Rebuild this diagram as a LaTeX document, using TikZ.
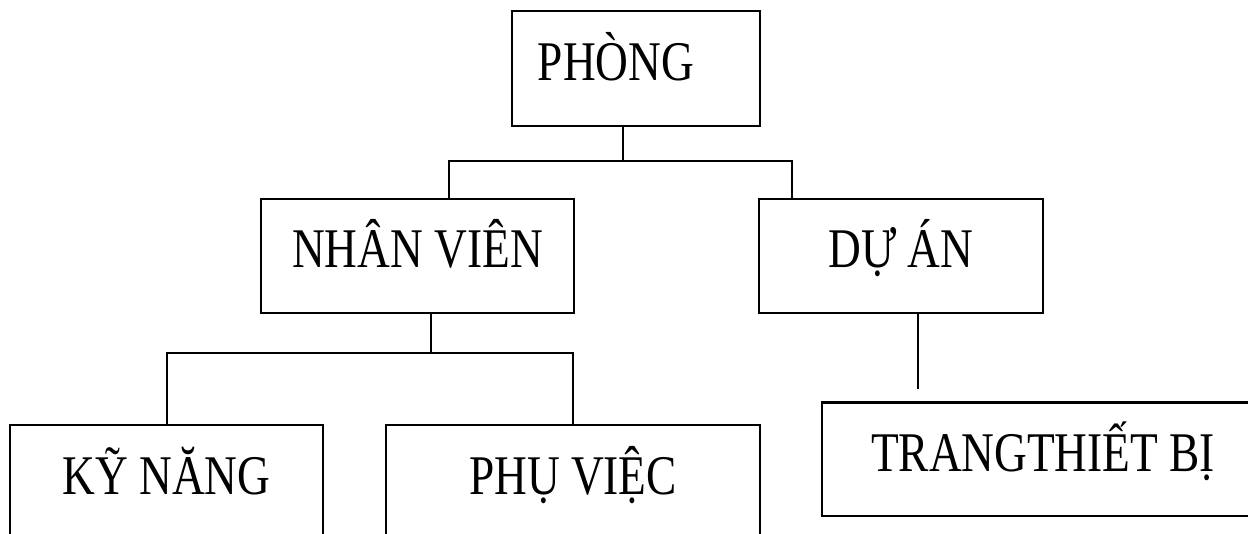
\documentclass[tikz,border=0pt]{standalone}
\usepackage{fontspec}
\setmainfont{Liberation Serif}[FakeStretch=0.81]
\begin{document}
\begin{tikzpicture}[x=1pt,y=-1pt,
  box/.style={draw=black, line width=1.5pt, rectangle, inner sep=0pt,
    minimum height=114pt, text height=36pt, text depth=12pt,
    font=\fontsize{56}{60}\selectfont},
  conn/.style={draw=black, line width=1.5pt}]
\useasboundingbox (0,0) rectangle (1248,534);
\clip (0,0) rectangle (1248,534);
\fill[white] (0,0) rectangle (1248,534);
% boxes
\node[box, minimum width=248pt, minimum height=115pt] (phong) at (636,68.5) {PHÒNG\hspace*{40pt}};
\node[box, minimum width=313pt] (nv) at (417.5,256) {NHÂN VIÊN};
\node[box, minimum width=284pt] (da) at (901,256) {DỰ ÁN};
\node[box, minimum width=313pt] (kn) at (166.5,482) {KỸ NĂNG};
\node[box, minimum width=374pt] (pv) at (573,482) {PHỤ VIỆC};
\node[box, minimum width=442pt, minimum height=113pt] (tb) at (1043,459.5) {TRANGTHIẾT BỊ};
\draw[line width=3pt] (tb.north west) -- (tb.north east);
% junctions
\coordinate (j1) at (623,161);
\coordinate (c1) at (449,161);
\coordinate (c2) at (792,161);
\coordinate (j2) at (431,353);
\coordinate (d1) at (167,353);
\coordinate (d2) at (573,353);
\coordinate (e1) at (918,389);
% connectors
\draw[conn] (phong.south -| j1) -- (j1);
\draw[conn] (nv.north -| c1) -- (c1) -- (c2) -- (da.north -| c2);
\draw[conn] (nv.south -| j2) -- (j2);
\draw[conn] (kn.north -| d1) -- (d1) -- (d2) -- (pv.north -| d2);
\draw[conn] (da.south -| e1) -- (e1);
\end{tikzpicture}
\end{document}
